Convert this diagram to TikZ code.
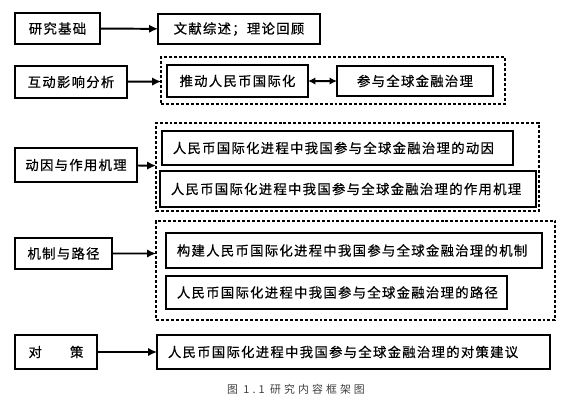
\documentclass[tikz,border=0pt]{standalone}
\usepackage{fontspec}
\usepackage{tkz-graph}
\usetikzlibrary{arrows.meta}
\usetikzlibrary{shapes}
\newfontfamily\heiti[LetterSpace=9.5, FakeBold=0.6]{Noto Sans CJK SC}
\newfontfamily\captionfont[LetterSpace=28]{Noto Sans CJK SC}

\begin{document}
\begin{tikzpicture}[scale = 10, font=\heiti\fontsize{13.5}{15}\selectfont]
	\tikzstyle{VertexStyle} = []
	\tikzstyle{oneStyle} = [line width = 2pt, -{Latex[length = 9pt, width = 8.5pt]}]
	\tikzstyle{bothStyle} = [line width = 2pt, {Latex[length = 7.5pt, width = 7.5pt]}-{Latex[length = 7.5pt, width = 7.5pt]}]
	\tikzstyle{boxStyle} = [shape = rectangle, draw, line width = 1.6pt, inner sep = 0pt]
	\tikzstyle{longStyle} = [shape = rectangle, draw, line width = 1.6pt, inner xsep = 11pt, inner ysep = 0pt, align = left]
	\tikzstyle{groupStyle} = [shape = rectangle, draw, line width = 1.2pt, dash pattern = on 3pt off 2pt, inner sep = 0pt]
	\tikzstyle{captionStyle} = [font = \captionfont\fontsize{11}{13}\selectfont, text = black!75]
	\useasboundingbox (0, 0) rectangle (2, 1.4326);
	\Vertex[style = {boxStyle, minimum width = 86pt, minimum height = 31pt}, x = 0.2039, y = 1.3316, L = 研究基础]{yanjiu}
	\Vertex[style = {boxStyle, minimum width = 163.5pt, minimum height = 30.3pt}, x = 0.8475, y = 1.3298, L = 文献综述；理论回顾]{zongshu}
	\Vertex[style = {boxStyle, minimum width = 113pt, minimum height = 32.3pt}, x = 0.2518, y = 1.1418, L = 互动影响分析]{hudong}
	\Vertex[style = {groupStyle, minimum width = 347pt, minimum height = 47.4pt}, x = 1.1809, y = 1.1472, NoLabel]{hudongBox}
	\Vertex[style = {boxStyle, minimum width = 142.3pt, minimum height = 32.3pt}, x = 0.8422, y = 1.1454, L = 推动人民币国际化]{tuidong}
	\Vertex[style = {boxStyle, minimum width = 157.4pt, minimum height = 30.3pt}, x = 1.4716, y = 1.1454, L = 参与全球金融治理]{canyu}
	\Vertex[style = {boxStyle, minimum width = 123.1pt, minimum height = 34.3pt}, x = 0.2695, y = 0.8475, L = 动因与作用机理]{dongyin}
	\Vertex[style = {groupStyle, minimum width = 386.4pt, minimum height = 88.8pt}, x = 1.2323, y = 0.8404, NoLabel]{dongyinBox}
	\Vertex[style = {longStyle, text width = 332.2pt, minimum height = 34.3pt}, x = 1.1968, y = 0.9078, L = 人民币国际化进程中我国参与全球金融治理的动因]{dongyinA}
	\Vertex[style = {longStyle, text width = 357.4pt, minimum height = 36.3pt}, x = 1.2340, y = 0.7624, L = 人民币国际化进程中我国参与全球金融治理的作用机理]{dongyinB}
	\Vertex[style = {boxStyle, minimum width = 97.9pt, minimum height = 31.3pt}, x = 0.2252, y = 0.5337, L = 机制与路径]{jizhi}
	\Vertex[style = {groupStyle, minimum width = 402.6pt, minimum height = 99.9pt}, x = 1.2606, y = 0.4734, NoLabel]{jizhiBox}
	\Vertex[style = {longStyle, text width = 357.4pt, minimum height = 35.3pt}, x = 1.2553, y = 0.5443, L = 构建人民币国际化进程中我国参与全球金融治理的机制]{jizhiA}
	\Vertex[style = {longStyle, text width = 322.1pt, minimum height = 33.3pt}, x = 1.1933, y = 0.3954, L = 人民币国际化进程中我国参与全球金融治理的路径]{jizhiB}
	\Vertex[style = {boxStyle, minimum width = 82.7pt, minimum height = 34.3pt}, x = 0.1986, y = 0.1844, L = 对\hspace{2.1em}策]{duice}
	\Vertex[style = {longStyle, text width = 374.5pt, minimum height = 34.3pt}, x = 1.2535, y = 0.1844, L = 人民币国际化进程中我国参与全球金融治理的对策建议]{jianyi}
	\Vertex[style = captionStyle, x = 1.0496, y = 0.0532, L = 图 1.1 研究内容框架图]{caption}
	\draw[oneStyle] (yanjiu) -- (zongshu);
	\draw[oneStyle] (hudong) -- (hudongBox);
	\draw[bothStyle] (tuidong) -- (canyu);
	\draw[oneStyle] (dongyin) -- (dongyinBox);
	\draw[oneStyle] (jizhi) -- (jizhi -| jizhiBox.west);
	\draw[oneStyle] (duice) -- (jianyi);
\end{tikzpicture}
\end{document}
